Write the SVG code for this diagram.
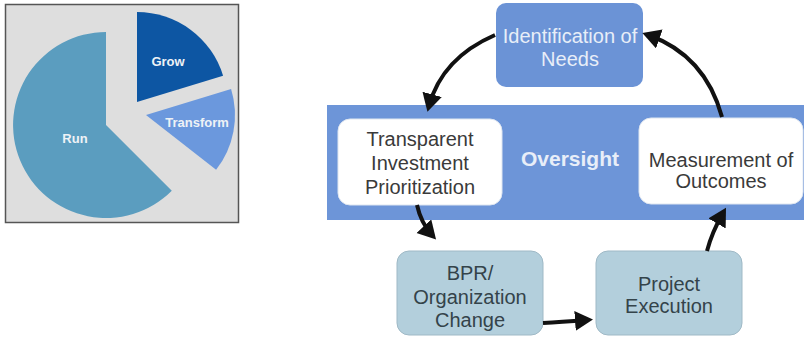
<svg xmlns="http://www.w3.org/2000/svg" width="804" height="337" viewBox="0 0 804 337">
<style>
  .lbl{font-family:"Liberation Sans",Arial,sans-serif;text-anchor:middle}
  .pie{font-size:13px;font-weight:bold;fill:#eef2f6}
  .dark{font-size:20px;fill:#3a3a3a}
  .light{font-size:20px;fill:#e8eef8}
  .blu{font-size:20px;fill:#34434a}
  .conn{fill:none;stroke:#111;stroke-width:4}
  .white{fill:#fff;stroke:#dfe6f0;stroke-width:1}
  .gray{fill:#b3cfdc;stroke:#9fb9c6;stroke-width:1}
</style>
<defs>
  <marker id="ah" markerUnits="userSpaceOnUse" markerWidth="20" markerHeight="22" refX="12" refY="10" orient="auto">
    <path d="M0,0 L18,10 L0,20 Z" fill="#111"/>
  </marker>
</defs>
<rect width="804" height="337" fill="#fff"/>
<g id="pie-chart">
  <rect x="5.5" y="4.5" width="233" height="218" fill="#dedede" stroke="#555" stroke-width="1.5"/>
  <path d="M106,125 L106,32 A93,93 0 1 0 171.8,190.8 Z" fill="#5b9dbf"/>
  <path d="M137,102 L137,12 A90,90 0 0 1 223.1,75.7 Z" fill="#0d56a3"/>
  <path d="M146,115 L231.1,89 A89,89 0 0 1 216.1,169.8 Z" fill="#6b98dd"/>
  <text class="lbl pie" x="168" y="66">Grow</text>
  <text class="lbl pie" x="197" y="127">Transform</text>
  <text class="lbl pie" x="75" y="143">Run</text>
</g>
<g id="oversight">
  <rect x="327" y="105" width="477" height="115" fill="#6d95d8"/>
  <text class="lbl" x="570" y="166" font-size="21" font-weight="bold" fill="#e8eef8">Oversight</text>
</g>
<g id="identification">
  <rect x="496" y="3" width="147" height="84" rx="10" fill="#6b93d6"/>
  <text class="lbl light" x="570" y="43">Identification of</text>
  <text class="lbl light" x="570" y="66">Needs</text>
</g>
<g id="prioritization">
  <rect x="338" y="119" width="164" height="86" rx="12" class="white"/>
  <text class="lbl dark" x="420" y="146">Transparent</text>
  <text class="lbl dark" x="420" y="170">Investment</text>
  <text class="lbl dark" x="420" y="194">Prioritization</text>
</g>
<g id="measurement">
  <rect x="639" y="118" width="164" height="86" rx="12" class="white"/>
  <text class="lbl dark" x="721" y="167">Measurement of</text>
  <text class="lbl dark" x="721" y="188">Outcomes</text>
</g>
<g id="bpr">
  <rect x="397" y="251" width="146" height="84" rx="12" class="gray"/>
  <text class="lbl blu" x="470" y="280">BPR/</text>
  <text class="lbl blu" x="470" y="304">Organization</text>
  <text class="lbl blu" x="470" y="327">Change</text>
</g>
<g id="execution">
  <rect x="596" y="251" width="146" height="84" rx="12" class="gray"/>
  <text class="lbl blu" x="669" y="291">Project</text>
  <text class="lbl blu" x="669" y="313">Execution</text>
</g>
<g id="connectors">
  <path class="conn" d="M495,35 Q442,58 429,106" marker-end="url(#ah)"/>
  <path class="conn" d="M722,117 Q705,55 648,35" marker-end="url(#ah)"/>
  <path class="conn" d="M417,205 Q421,223 432,235" marker-end="url(#ah)"/>
  <path class="conn" d="M543,323 Q560,322 587,320" marker-end="url(#ah)"/>
  <path class="conn" d="M707,251 Q712,232 723,213" marker-end="url(#ah)"/>
</g>
</svg>
